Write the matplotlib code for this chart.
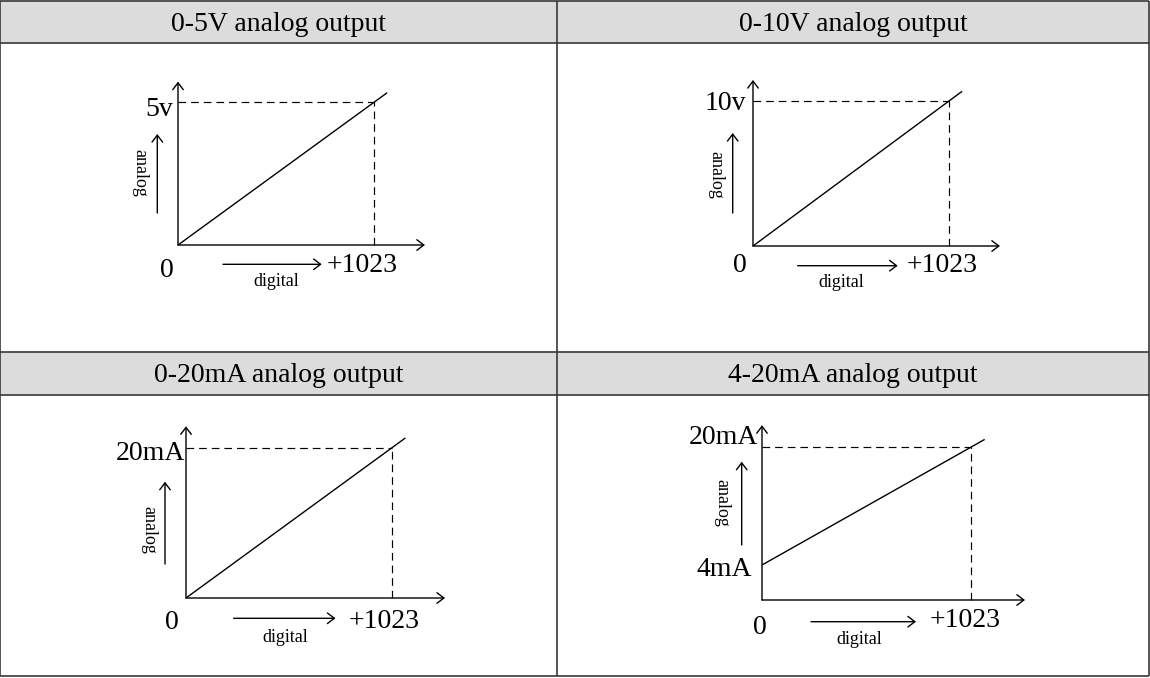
import numpy as np
import matplotlib
matplotlib.use("Agg")
import matplotlib.pyplot as plt
from matplotlib.patches import Rectangle
from matplotlib.transforms import offset_copy

plt.rcParams["font.family"] = ["Liberation Serif", "DejaVu Serif"]

W, H, DPI = 1150, 678, 100

# ── panel content ─────────────────────────────────────────────────────────────
TITLES      = ["0-5V analog output", "0-10V analog output",
               "0-20mA analog output", "4-20mA analog output"]
CODE_MAX    = [1023, 1023, 1023, 1023]
OUT_LO      = [0, 0, 0, 4]
OUT_HI      = [5, 10, 20, 20]
HI_LABELS   = ["5v", "10v", "20mA", "20mA"]
LO_LABELS   = [None, None, None, "4mA"]
CODE_LABELS = ["+1023", "+1023", "+1023", "+1023"]

# ── layout (pixels, y measured downward) ─────────────────────────────────────
COL_X    = [0, 557, 1149]
ROW_Y    = [1, 43, 352, 395, 676]
HEAD_BG  = "#dcdcdc"
RULE     = "#383838"

ORIGIN   = [(178, 245), (753, 246), (186, 598), (762, 600)]
FULL_PX  = [(374, 102.3), (949, 101), (391.6, 448), (970.7, 447.3)]   # (code max, out hi)
LO_ROW   = [245, 246, 598, 565]                                        # row of out lo
X_REACH, Y_REACH, LINE_REACH = 1.26, 1.145, 1.067

# label offsets in pixels: (dx, dy)
HI_OFF    = [(-5, 4.4), (-6.4, -0.3), (-1, 2.7), (-4, -12.3)]
LO_OFF    = [None, None, None, (-10.3, 1.7)]
ZERO_OFF  = [(-11.3, 23), (-13, 17.3), (-14, 22), (-2, 25)]
CODE_OFF  = [(-12, 17.8), (-6.5, 17), (-7.6, 21.5), (-5.7, 18.3)]
DIG_ARROW = [(45, 143.7, 19.3), (44.6, 144.7, 19.7), (47.6, 149.5, 20.3), (49, 154, 21.7)]
DIG_TEXT  = [(98.7, 36.7), (88.6, 36.5), (99, 39.3), (97, 40)]
ANA_ARROW = [(-20.7, -32, -111), (-20.3, -33, -113), (-21, -34, -116.3), (-20.3, -55, -138.3)]
ANA_TEXT  = [(-38, -72), (-37, -71), (-37.5, -68), (-40.3, -96.7)]

BIG, SMALL = 20, 13
AXIS_LW, DASH_LW = 1.0, 0.85
DASH = (0, (6.5, 4.2))
HEAD = dict(arrowstyle="->,head_length=0.5,head_width=0.38", mutation_scale=10,
            shrinkA=0, shrinkB=0, color="black", lw=AXIS_LW)

fig = plt.figure(figsize=(W / DPI, H / DPI), dpi=DPI, facecolor="white")
bg = fig.add_axes([0, 0, 1, 1])
bg.set_xlim(0, W)
bg.set_ylim(H, 0)
bg.axis("off")

# ── table ─────────────────────────────────────────────────────────────────────
for top, bot in [(ROW_Y[0], ROW_Y[1]), (ROW_Y[2], ROW_Y[3])]:
    bg.add_patch(Rectangle((COL_X[0], top), COL_X[-1] - COL_X[0], bot - top,
                           facecolor=HEAD_BG, edgecolor="none", zorder=0))
for y in ROW_Y:
    bg.plot([COL_X[0], COL_X[-1]], [y, y], color=RULE, lw=1.2, solid_capstyle="butt")
for x in COL_X:
    bg.plot([x, x], [ROW_Y[0], ROW_Y[-1]], color=RULE, lw=1.2, solid_capstyle="butt")

def bg_text(x, y, s, size, **kw):
    bg.text(x, y, s, fontsize=size, color="black", **kw)

for i, title in enumerate(TITLES):
    col, row = i % 2, i // 2
    cx = (COL_X[col] + COL_X[col + 1]) / 2
    cy = (ROW_Y[2 * row] + ROW_Y[2 * row + 1]) / 2
    bg_text(cx, cy + 9, title, BIG, ha="center", va="baseline")

# ── diagrams ──────────────────────────────────────────────────────────────────
for i in range(4):
    ox, oy = ORIGIN[i]
    fx, fy = FULL_PX[i]
    lo, hi, cmax = OUT_LO[i], OUT_HI[i], CODE_MAX[i]
    sx = (fx - ox) / cmax
    sy = (LO_ROW[i] - fy) / (hi - lo)
    floor = lo - (oy - LO_ROW[i]) / sy

    left, right, top, bottom = ox - 10, ox + 300, oy - 200, oy + 10
    ax = fig.add_axes([left / W, (H - bottom) / H, (right - left) / W, (bottom - top) / H])
    ax.set_xlim((left - ox) / sx, (right - ox) / sx)
    ax.set_ylim(floor - (bottom - oy) / sy, floor + (oy - top) / sy)
    ax.axis("off")

    # axes with open arrowheads
    ax.annotate("", xy=(cmax * X_REACH, floor), xytext=(0, floor),
                arrowprops=HEAD, annotation_clip=False)
    ax.annotate("", xy=(0, floor + (hi - floor) * Y_REACH), xytext=(0, floor),
                arrowprops=HEAD, annotation_clip=False)

    # transfer line
    codes = np.array([0, cmax * LINE_REACH])
    ax.plot(codes, lo + (hi - lo) * codes / cmax, color="black", lw=AXIS_LW,
            solid_capstyle="butt")

    # full-scale guides
    ax.plot([0, cmax], [hi, hi], color="black", lw=DASH_LW, linestyle=DASH)
    ax.plot([cmax, cmax], [floor, hi], color="black", lw=DASH_LW, linestyle=DASH)

    def label(x, y, s, off, ha):
        ax.text(x, y, s, fontsize=BIG, ha=ha, va="baseline",
                transform=offset_copy(ax.transData, fig=fig, x=off[0],
                                      y=-(off[1] + 9), units="dots"))

    label(0, hi, HI_LABELS[i], HI_OFF[i], "right")
    if LO_LABELS[i]:
        label(0, lo, LO_LABELS[i], LO_OFF[i], "right")
    label(0, floor, "0", ZERO_OFF[i], "center")
    label(cmax, floor, CODE_LABELS[i], CODE_OFF[i], "center")

    # direction hints
    x0, x1, dy = DIG_ARROW[i]
    bg.annotate("", xy=(ox + x1, oy + dy), xytext=(ox + x0, oy + dy), arrowprops=HEAD)
    bg_text(ox + DIG_TEXT[i][0], oy + DIG_TEXT[i][1] + 4.2, "digital", SMALL,
            ha="center", va="baseline")
    dx, y0, y1 = ANA_ARROW[i]
    bg.annotate("", xy=(ox + dx, oy + y1), xytext=(ox + dx, oy + y0), arrowprops=HEAD)
    bg_text(ox + ANA_TEXT[i][0], oy + ANA_TEXT[i][1], "analog", SMALL,
            ha="center", va="center", rotation=270)

fig.savefig("out.png", dpi=DPI, facecolor="white")
